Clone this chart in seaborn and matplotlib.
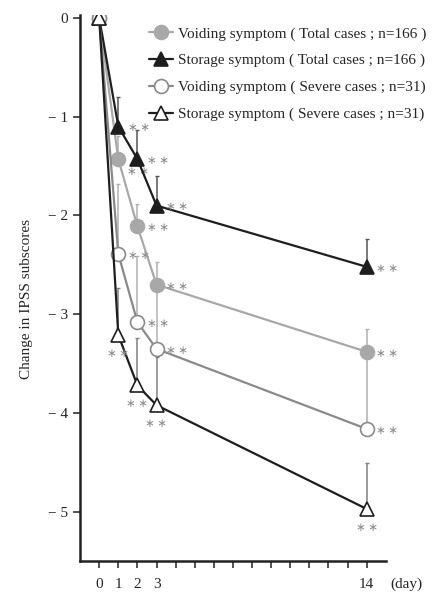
import numpy as np
import pandas as pd
import matplotlib
matplotlib.use("Agg")
import matplotlib.pyplot as plt
import seaborn as sns

# datos
days = [0, 1, 2, 3, 14]
voiding_total = [0, -1.43, -2.11, -2.70, -3.38]
voiding_total_err = [0, 0.23, 0.23, 0.23, 0.23]
storage_total = [0, -1.10, -1.43, -1.90, -2.52]
storage_total_err = [0, 0.30, 0.29, 0.30, 0.28]
voiding_severe = [0, -2.39, -3.08, -3.35, -4.16]
voiding_severe_err = [0, 0.71, 0.67, 0.60, 0.76]
storage_severe = [0, -3.21, -3.72, -3.92, -4.97]
storage_severe_err = [0, 0.48, 0.48, 0.49, 0.47]

labels = ["Voiding symptom ( Total cases ; n=166 )",
          "Storage symptom ( Total cases ; n=166 )",
          "Voiding symptom ( Severe cases ; n=31)",
          "Storage symptom ( Severe cases ; n=31)"]
xtick_labels = {0: "0", 1: "1", 2: "2", 3: "3", 14: "14"}
ytick_vals = [0, -1, -2, -3, -4, -5]
ytick_labels = ["0", "\u2212 1", "\u2212 2", "\u2212 3", "\u2212 4", "\u2212 5"]
star = "\u2217\u2009\u2217"

sns.set_style("ticks")
plt.rcParams['font.family'] = ['Liberation Serif', 'DejaVu Serif']

fig = plt.figure(figsize=(4.33, 5.94), dpi=100)
ax = fig.add_axes([0.185, 0.055, 0.706, 0.92])

series = [
    (voiding_total, voiding_total_err, "#a8a8a8", "o", "#a8a8a8", "#a8a8a8", "#b0b0b0", "right"),
    (storage_total, storage_total_err, "#1e1e1e", "^", "#1e1e1e", "#1e1e1e", "#555555", "right"),
    (voiding_severe, voiding_severe_err, "#8a8a8a", "o", "white", "#8a8a8a", "#b0b0b0", "right"),
    (storage_severe, storage_severe_err, "#1e1e1e", "^", "white", "#1e1e1e", "#808080", "below"),
]

handles = []
for (vals, err, lc, mk, fc, ec, errc, star_pos), lab in zip(series, labels):
    df = pd.DataFrame({"day": days, "value": vals})
    # barras de error solo hacia arriba
    ax.errorbar(days[1:], vals[1:], yerr=[np.zeros(len(err) - 1), err[1:]],
                fmt="none", ecolor=errc, elinewidth=1.1, capsize=1.5, zorder=1)
    sns.lineplot(data=df, x="day", y="value", ax=ax, color=lc, lw=1.6,
                 marker=mk, markersize=10,
                 markerfacecolor=fc, markeredgecolor=ec, markeredgewidth=1.2,
                 zorder=3)
    handles.append(plt.Line2D([], [], color=lc, lw=1.6, marker=mk, markersize=10,
                              markerfacecolor=fc, markeredgecolor=ec,
                              markeredgewidth=1.2))
    for i, (d, v) in enumerate(zip(days[1:], vals[1:])):
        if star_pos == "right":
            off = (6, -9) if (lab == labels[0] and i == 0) else (7, -1)
            ax.annotate(star, (d, v), xytext=off, textcoords="offset points",
                        fontsize=8.5, color="#8c8c8c", va="center", ha="left",
                        family="DejaVu Sans")
        else:
            ax.annotate(star, (d, v), xytext=(0, -13), textcoords="offset points",
                        fontsize=8.5, color="#8c8c8c", va="center", ha="center",
                        family="DejaVu Sans")

ax.set_xlim(-1, 15)
ax.set_ylim(-5.5, 0.03)
ax.set_xticks(range(0, 15))
ax.set_xticklabels([xtick_labels.get(i, "") for i in range(0, 15)], fontsize=11)
ax.set_yticks(ytick_vals)
ax.set_yticklabels(ytick_labels, fontsize=11)
ax.tick_params(axis="both", direction="out", length=5, width=1.2, color="#333333")
ax.tick_params(axis="x", pad=7)
for s in ["left", "bottom"]:
    ax.spines[s].set_linewidth(1.8)
    ax.spines[s].set_color("#222222")
sns.despine(ax=ax)
ax.set_xlabel("")
ax.set_ylabel("Change in IPSS subscores", fontsize=11)
ax.yaxis.set_label_coords(-0.155, 0.48)
ax.annotate("(day)", xy=(1.0, 0), xycoords="axes fraction", xytext=(3, -16.5),
            textcoords="offset points", fontsize=11, ha="left", va="center",
            annotation_clip=False)

fig.legend(handles, labels, loc="upper left", bbox_to_anchor=(0.326, 0.968),
           bbox_transform=fig.transFigure, frameon=False, fontsize=11,
           handlelength=1.6, handletextpad=0.3, labelspacing=0.85,
           borderpad=0)

fig.savefig("out.png", dpi=100)
